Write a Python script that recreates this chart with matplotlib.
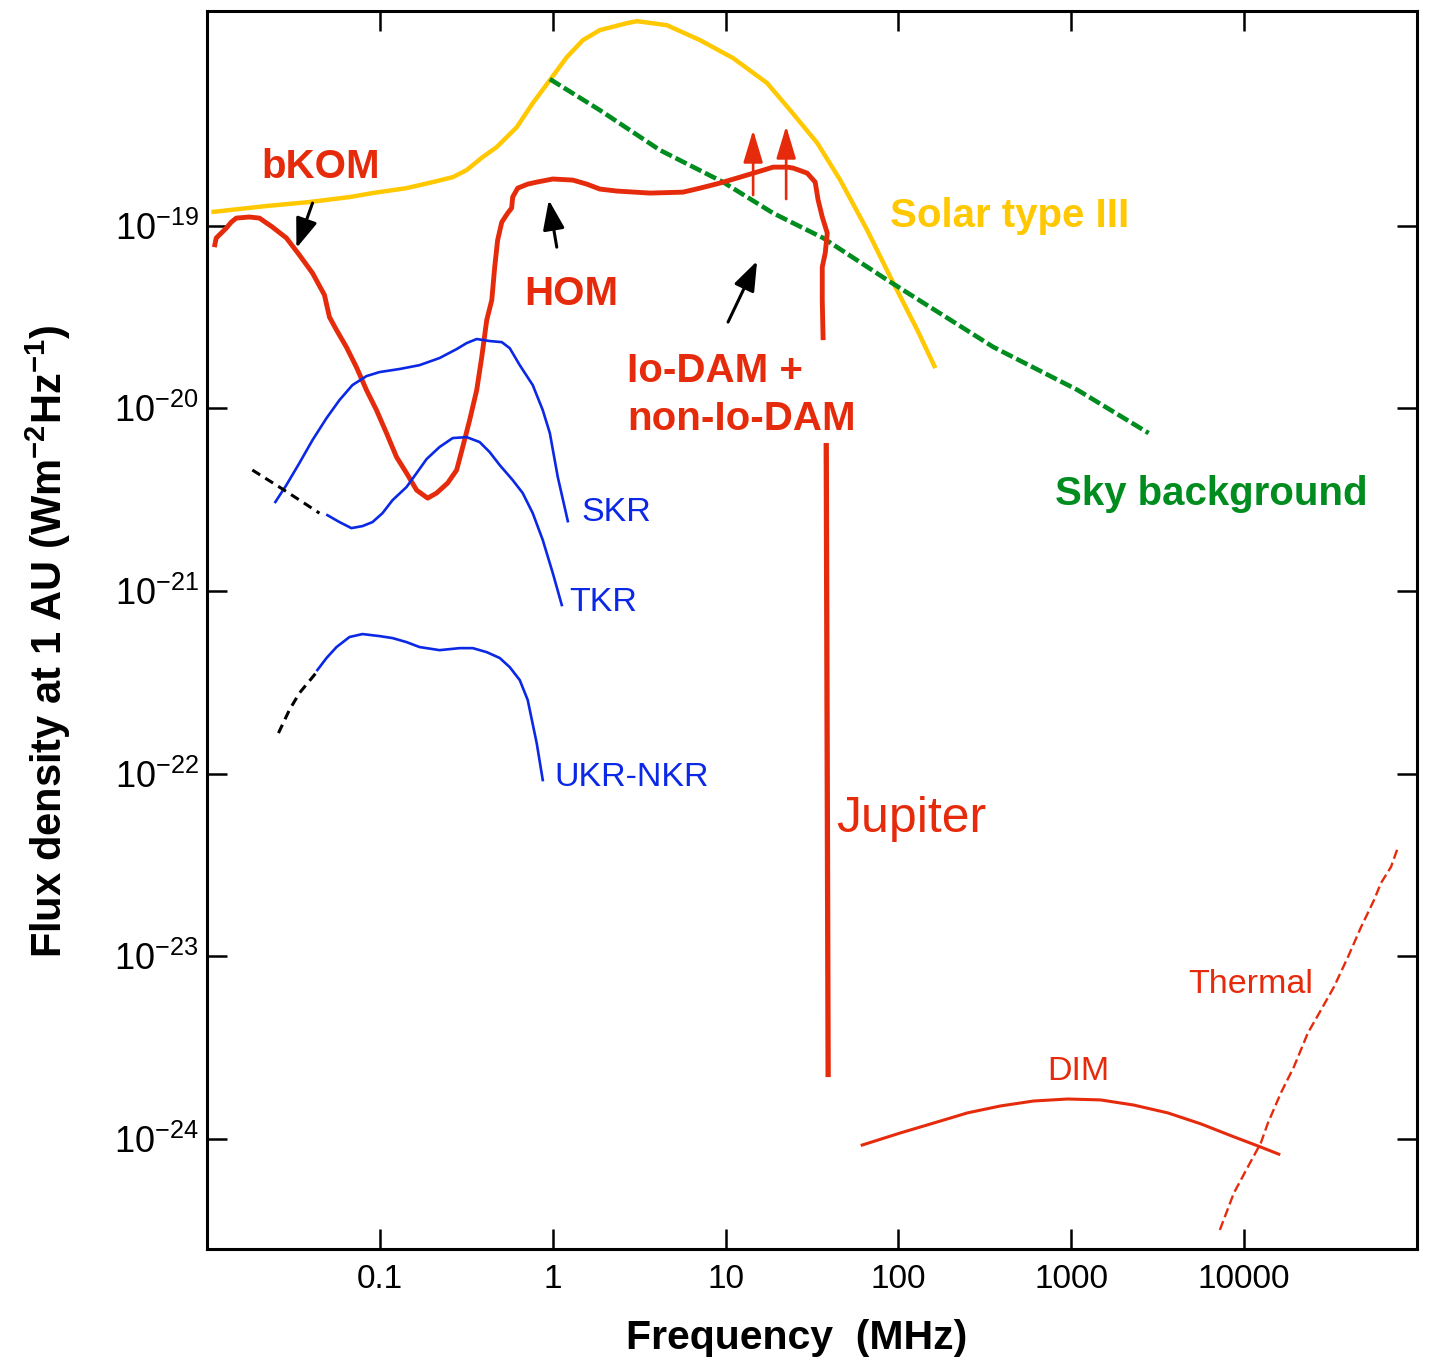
import numpy as np
import matplotlib
matplotlib.use("Agg")
import matplotlib.pyplot as plt
from matplotlib.ticker import NullLocator

# Values.
# Stored as log10(frequency / MHz) and log10(flux density / W m^-2 Hz^-1)
solar_logf = [-1.975, -1.657, -1.408, -1.176, -1.043, -0.846, -0.695, -0.579, -0.498, -0.406,
              -0.324, -0.208, -0.116, -0.017, 0.081, 0.174, 0.272, 0.429, 0.487, 0.660,
              0.852, 1.043, 1.240, 1.373, 1.530, 1.663, 1.819, 1.953, 2.109, 2.213]
solar_logs = [-18.926, -18.893, -18.871, -18.844, -18.822, -18.795, -18.762, -18.735, -18.696, -18.625,
              -18.570, -18.461, -18.330, -18.204, -18.078, -17.985, -17.930, -17.892, -17.881, -17.903,
              -17.985, -18.083, -18.220, -18.368, -18.548, -18.751, -19.025, -19.282, -19.572, -19.780]

sky_logf = [-0.017, 0.272, 0.620, 0.985, 1.275, 1.564, 1.935, 2.549, 3.036, 3.447]
sky_logs = [-18.198, -18.368, -18.587, -18.762, -18.932, -19.068, -19.298, -19.665, -19.900, -20.136]

# bKOM + HOM + DAM envelope
jup_logf = [-1.958, -1.947, -1.918, -1.889, -1.860, -1.831, -1.755, -1.697, -1.622, -1.541,
            -1.466, -1.390, -1.321, -1.292, -1.251, -1.194, -1.136, -1.078, -1.020, -0.962,
            -0.904, -0.846, -0.788, -0.724, -0.672, -0.608, -0.556, -0.521, -0.481, -0.440,
            -0.411, -0.382, -0.353, -0.336, -0.319, -0.295, -0.261, -0.238, -0.232, -0.203,
            -0.145, -0.093, 0.000, 0.116, 0.197, 0.272, 0.371, 0.562, 0.753, 0.852,
            0.968, 1.083, 1.199, 1.275, 1.356, 1.390, 1.472, 1.518, 1.535, 1.559,
            1.588, 1.576, 1.559, 1.559, 1.564]
jup_logs = [-19.118, -19.068, -19.041, -19.014, -18.981, -18.959, -18.953, -18.959, -19.008, -19.068,
            -19.161, -19.260, -19.380, -19.501, -19.572, -19.665, -19.775, -19.900, -20.010, -20.136,
            -20.267, -20.355, -20.448, -20.492, -20.464, -20.409, -20.338, -20.212, -20.065, -19.900,
            -19.720, -19.517, -19.408, -19.227, -19.079, -18.981, -18.932, -18.904, -18.844, -18.795,
            -18.773, -18.762, -18.745, -18.751, -18.773, -18.800, -18.811, -18.822, -18.817, -18.795,
            -18.767, -18.735, -18.702, -18.680, -18.680, -18.685, -18.713, -18.762, -18.860, -18.953,
            -19.041, -19.151, -19.227, -19.408, -19.627]
# DAM high-frequency cutoff
cutoff_logf = [1.582, 1.593]
cutoff_logs = [-20.190, -23.661]

skr_logf = [-1.605, -1.541, -1.466, -1.390, -1.309, -1.234, -1.159, -1.078, -1.003, -0.886,
            -0.771, -0.655, -0.556, -0.498, -0.440, -0.365, -0.295, -0.249, -0.191, -0.116,
            -0.058, -0.017, 0.029, 0.087]
skr_logs = [-20.513, -20.420, -20.300, -20.174, -20.054, -19.955, -19.873, -19.824, -19.802, -19.785,
            -19.764, -19.725, -19.676, -19.643, -19.621, -19.632, -19.638, -19.671, -19.764, -19.873,
            -20.010, -20.136, -20.377, -20.618]

tkr_logf = [-1.304, -1.234, -1.165, -1.101, -1.043, -0.985, -0.927, -0.846, -0.788, -0.730,
            -0.655, -0.579, -0.498, -0.423, -0.365, -0.307, -0.232, -0.174, -0.116, -0.058,
            0.000, 0.052]
tkr_logs = [-20.585, -20.623, -20.656, -20.645, -20.623, -20.574, -20.503, -20.431, -20.355, -20.278,
            -20.212, -20.163, -20.158, -20.185, -20.240, -20.311, -20.393, -20.464, -20.574, -20.721,
            -20.902, -21.077]
tkr_ext_logf = [-1.738, -1.582, -1.466, -1.350]
tkr_ext_logs = [-20.338, -20.431, -20.502, -20.574]

ukr_logf = [-1.362, -1.309, -1.251, -1.176, -1.101, -1.003, -0.927, -0.846, -0.771, -0.655,
            -0.539, -0.463, -0.382, -0.307, -0.249, -0.191, -0.145, -0.093, -0.058]
ukr_logs = [-21.433, -21.367, -21.307, -21.252, -21.236, -21.247, -21.258, -21.280, -21.307, -21.324,
            -21.313, -21.313, -21.335, -21.367, -21.417, -21.488, -21.597, -21.833, -22.035]
ukr_ext_logf = [-1.587, -1.524, -1.466, -1.356]
ukr_ext_logs = [-21.778, -21.652, -21.559, -21.433]

dim_logf = [1.790, 2.010, 2.202, 2.399, 2.590, 2.781, 2.978, 3.169, 3.360, 3.558,
            3.749, 3.940, 4.096, 4.200]
dim_logs = [-24.033, -23.967, -23.913, -23.857, -23.819, -23.792, -23.781, -23.786, -23.814, -23.857,
            -23.917, -23.988, -24.044, -24.083]

thermal_logf = [3.859, 3.940, 4.021, 4.096, 4.137, 4.212, 4.287, 4.368, 4.444, 4.519,
                4.600, 4.676, 4.751, 4.791, 4.849, 4.890]
thermal_logs = [-24.498, -24.296, -24.153, -24.022, -23.913, -23.748, -23.606, -23.420, -23.294, -23.168,
                -23.004, -22.840, -22.692, -22.599, -22.511, -22.402]

# arrows: (tail logf, tail logs, tip logf, tip logs)
black_arrows = [(-1.390, -18.877, -1.483, -19.123),
                (0.023, -19.118, -0.023, -18.860),
                (1.014, -19.528, 1.182, -19.194)]
red_arrows = [(1.159, -18.833, 1.159, -18.477),
              (1.350, -18.855, 1.350, -18.455)]

xtick_vals = [0.1, 1, 10, 100, 1000, 10000]
xtick_labels = ["0.1", "1", "10", "100", "1000", "10000"]
ytick_vals = [1e-19, 1e-20, 1e-21, 1e-22, 1e-23, 1e-24]
ytick_labels = [r"$10^{-19}$", r"$10^{-20}$", r"$10^{-21}$", r"$10^{-22}$", r"$10^{-23}$", r"$10^{-24}$"]

RED = "#E52B0C"
YELLOW = "#FFC800"
GREEN = "#008C1E"
BLUE = "#0A28E6"

plt.rcParams["font.family"] = ["Liberation Sans", "DejaVu Sans"]
plt.rcParams["mathtext.fontset"] = "custom"
plt.rcParams["mathtext.rm"] = "Liberation Sans"
plt.rcParams["mathtext.it"] = "Liberation Sans:italic"
plt.rcParams["mathtext.bf"] = "Liberation Sans:bold"


def lin(logf, logs):
    return 10 ** np.asarray(logf), 10 ** np.asarray(logs)


fig = plt.figure(figsize=(14.35, 13.61), dpi=100)
ax = fig.add_axes([0.1443, 0.0823, 0.8432, 0.9098])
ax.set_xscale("log")
ax.set_yscale("log")

ax.plot(*lin(solar_logf, solar_logs), color=YELLOW, lw=3.2, solid_capstyle="butt", solid_joinstyle="round")
ax.plot(*lin(sky_logf, sky_logs), color=GREEN, lw=3.3, ls=(0, (2.7, 0.9)))
ax.plot(*lin(jup_logf, jup_logs), color=RED, lw=3.5, solid_capstyle="butt", solid_joinstyle="round")
ax.plot(*lin(cutoff_logf, cutoff_logs), color=RED, lw=3.8, solid_capstyle="butt")

for fx, sx in [(skr_logf, skr_logs), (tkr_logf, tkr_logs), (ukr_logf, ukr_logs)]:
    ax.plot(*lin(fx, sx), color=BLUE, lw=1.9, solid_joinstyle="round")
ax.plot(*lin(tkr_ext_logf, tkr_ext_logs), color="black", lw=2.2, ls=(0, (3, 2)))
ax.plot(*lin(ukr_ext_logf, ukr_ext_logs), color="black", lw=2.2, ls=(0, (3, 2)))

ax.plot(*lin(dim_logf, dim_logs), color=RED, lw=2.2, solid_joinstyle="round")
ax.plot(*lin(thermal_logf, thermal_logs), color=RED, lw=1.7, ls=(0, (4, 1.8)))

for f0, s0, f1, s1 in black_arrows:
    ax.annotate("", xy=(10 ** f1, 10 ** s1), xytext=(10 ** f0, 10 ** s0),
                arrowprops=dict(arrowstyle="-|>,head_length=0.9,head_width=0.33", color="black",
                                lw=2.2, mutation_scale=20, shrinkA=0, shrinkB=0))
for f0, s0, f1, s1 in red_arrows:
    ax.annotate("", xy=(10 ** f1, 10 ** s1), xytext=(10 ** f0, 10 ** s0),
                arrowprops=dict(arrowstyle="-|>,head_length=1.0,head_width=0.3", color=RED,
                                lw=1.9, mutation_scale=20, shrinkA=0, shrinkB=0))

# labels (positions in log10 units, baseline aligned)
bold = dict(fontsize=29, fontweight="bold", va="baseline")
ax.text(10 ** -1.344, 10 ** -18.740, "bKOM", color=RED, ha="center", **bold)
ax.text(10 ** 0.110, 10 ** -19.435, "HOM", color=RED, ha="center", **bold)
ax.text(10 ** 0.429, 10 ** -19.857, "Io-DAM +", color=RED, ha="left", **bold)
ax.text(10 ** 0.429, 10 ** -20.120, "non-Io-DAM", color=RED, ha="left", **bold)
ax.text(10 ** 1.953, 10 ** -19.008, "Solar type III", color=YELLOW, ha="left", **bold)
ax.text(10 ** 2.908, 10 ** -20.530, "Sky background", color=GREEN, ha="left", **bold)
ax.text(10 ** 1.640, 10 ** -22.320, "Jupiter", color=RED, ha="left", va="baseline", fontsize=36)
ax.text(10 ** 0.168, 10 ** -20.617, "SKR", color=BLUE, ha="left", va="baseline", fontsize=24.5)
ax.text(10 ** 0.098, 10 ** -21.110, "TKR", color=BLUE, ha="left", va="baseline", fontsize=24.5)
ax.text(10 ** 0.012, 10 ** -22.068, "UKR-NKR", color=BLUE, ha="left", va="baseline", fontsize=24.5)
ax.text(10 ** 3.042, 10 ** -23.677, "DIM", color=RED, ha="center", va="baseline", fontsize=24.5)
ax.text(10 ** 4.038, 10 ** -23.201, "Thermal", color=RED, ha="center", va="baseline", fontsize=24.5)

ax.set_xlim(1e-2, 1e5)
ax.set_ylim(10 ** -24.602, 10 ** -17.824)
ax.set_xticks(xtick_vals, xtick_labels)
ax.set_yticks(ytick_vals, ytick_labels)
ax.xaxis.set_minor_locator(NullLocator())
ax.yaxis.set_minor_locator(NullLocator())
ax.tick_params(which="major", direction="in", length=14.4, width=1.8, top=True, right=True)
ax.tick_params(axis="x", labelsize=24, pad=11)
ax.tick_params(axis="y", labelsize=26, pad=6)
for sp in ax.spines.values():
    sp.set_linewidth(2.2)

ax.text(0.4876, -0.0719, "Frequency  (MHz)", transform=ax.transAxes, ha="center", va="center",
        fontsize=29.5, fontweight="bold")
ax.text(-0.131, 0.491, r"Flux density at 1 AU (Wm$^{\mathbf{-2}}$Hz$^{\mathbf{-1}}$)", transform=ax.transAxes,
        ha="center", va="center", rotation=90, fontsize=30, fontweight="bold")

fig.savefig("out.png", dpi=100)
